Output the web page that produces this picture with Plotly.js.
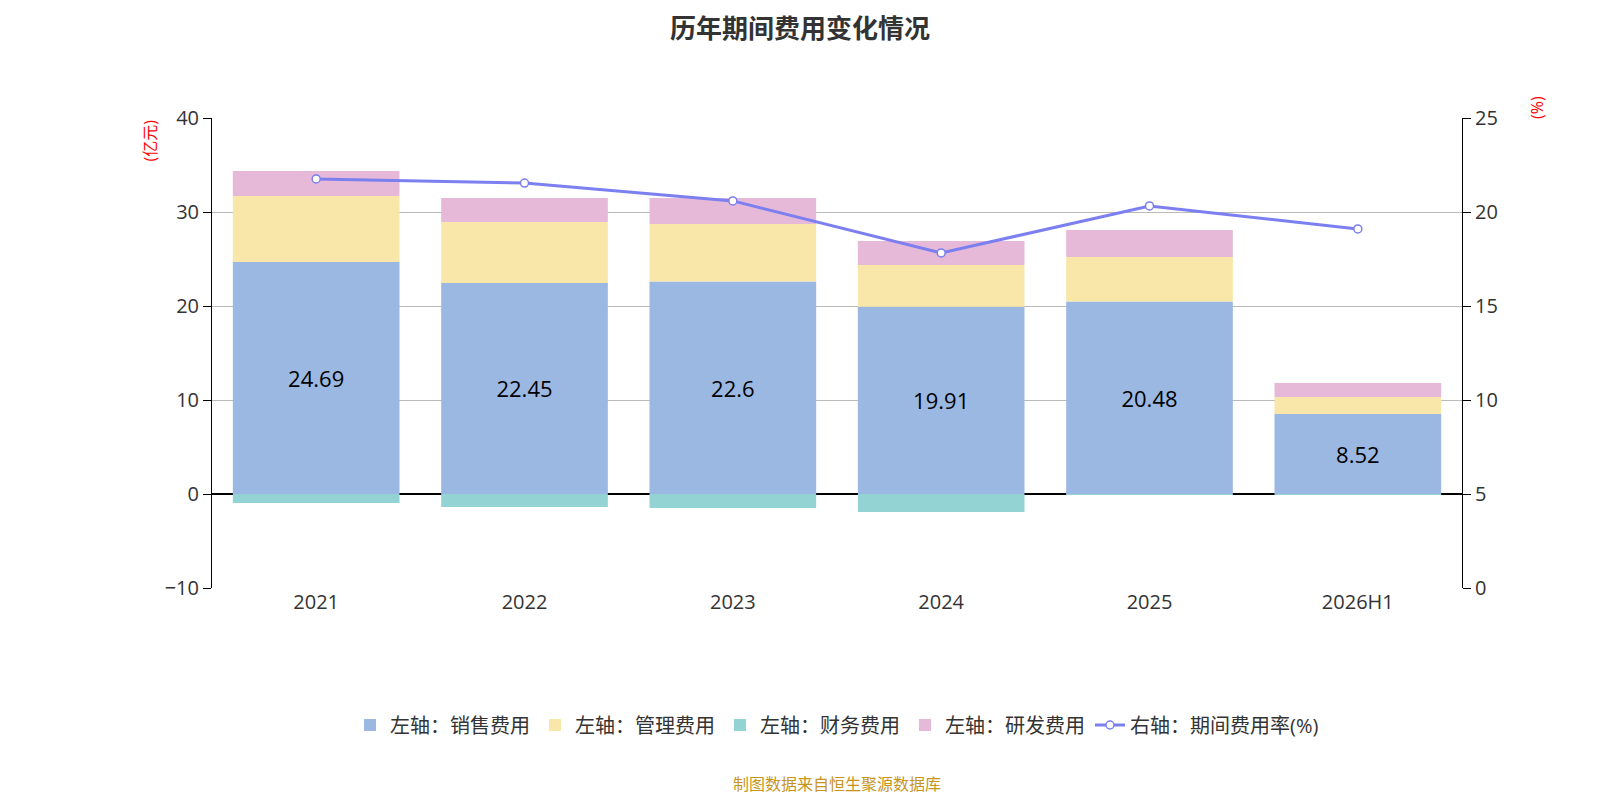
<!DOCTYPE html>
<html><head><meta charset="utf-8">
<script src="https://cdn.plot.ly/plotly-3.0.1.min.js"></script>
<style>body{margin:0}</style></head>
<body><div id="chart" style="width:1600px;height:800px"></div>
<script>
const years = ["2021", "2022", "2023", "2024", "2025", "2026H1"];
const sales = [24.69, 22.45, 22.6, 19.91, 20.48, 8.52];
const admin = [7.0, 6.49, 6.12, 4.45, 4.73, 1.8];
const finance = [-0.96, -1.38, -1.49, -1.91, -0.1, -0.05];
const rnd = [2.66, 2.55, 2.77, 2.55, 2.88, 1.49];
const rate = [21.76, 21.54, 20.59, 17.82, 20.32, 19.10];

const font = "Open Sans, Noto Sans CJK SC, sans-serif";
const data = [
  {type: "bar", name: "左轴：销售费用", x: years, y: sales, marker: {color: "#9bb8e2"},
   text: sales.map(String), textposition: "inside", insidetextanchor: "middle",
   textfont: {size: 22, color: "#000"}, hoverinfo: "y"},
  {type: "bar", name: "左轴：管理费用", x: years, y: admin, marker: {color: "#f8e7a8"}, textposition: "none"},
  {type: "bar", name: "左轴：财务费用", x: years, y: finance, marker: {color: "#93d3d3"}, textposition: "none"},
  {type: "bar", name: "左轴：研发费用", x: years, y: rnd, marker: {color: "#e7b9d9"}, textposition: "none"},
  {type: "scatter", mode: "lines+markers", name: "右轴：期间费用率(%)", x: years, y: rate, yaxis: "y2",
   line: {color: "#7b7ff0", width: 3},
   marker: {size: 8, color: "#fff", line: {color: "#7b7ff0", width: 1.5}}}
];
const layout = {
  width: 1600, height: 800,
  margin: {l: 212, r: 138, t: 118, b: 212},
  barmode: "relative", bargap: 0.2,
  font: {family: font, size: 20, color: "#333"},
  title: {text: "<b>历年期间费用变化情况</b>", x: 0.5, y: 0.975, yanchor: "top", font: {size: 26, color: "#333"}},
  showlegend: true,
  legend: {orientation: "h", x: 0.5, xanchor: "center", y: -0.25, yanchor: "top", font: {size: 20, color: "#333"}, traceorder: "normal"},
  xaxis: {type: "category", tickfont: {size: 20}, showline: false, ticks: ""},
  yaxis: {range: [-10, 40], dtick: 10, gridcolor: "#bbb", zeroline: true, zerolinecolor: "#000", zerolinewidth: 1.5,
          showline: true, linecolor: "#000", ticks: "outside", ticklen: 8, tickcolor: "#000", tickfont: {size: 20}},
  yaxis2: {range: [0, 25], dtick: 5, overlaying: "y", side: "right", showgrid: false, zeroline: false,
           showline: true, linecolor: "#000", ticks: "outside", ticklen: 8, tickcolor: "#000", tickfont: {size: 20}},
  annotations: [
    {text: "(亿元)", xref: "paper", yref: "paper", x: -0.05, y: 1.0, textangle: -90, showarrow: false,
     font: {size: 16, color: "red"}, xanchor: "center", yanchor: "top"},
    {text: "(%)", xref: "paper", yref: "paper", x: 1.06, y: 1.05, textangle: -90, showarrow: false,
     font: {size: 16, color: "red"}, xanchor: "center", yanchor: "top"},
    {text: "制图数据来自恒生聚源数据库", xref: "paper", yref: "paper", x: 0.5, y: -0.39, showarrow: false,
     font: {size: 16, color: "#c8941a"}, yanchor: "top"}
  ]
};
Plotly.newPlot("chart", data, layout, {displayModeBar: false});
</script></body></html>
